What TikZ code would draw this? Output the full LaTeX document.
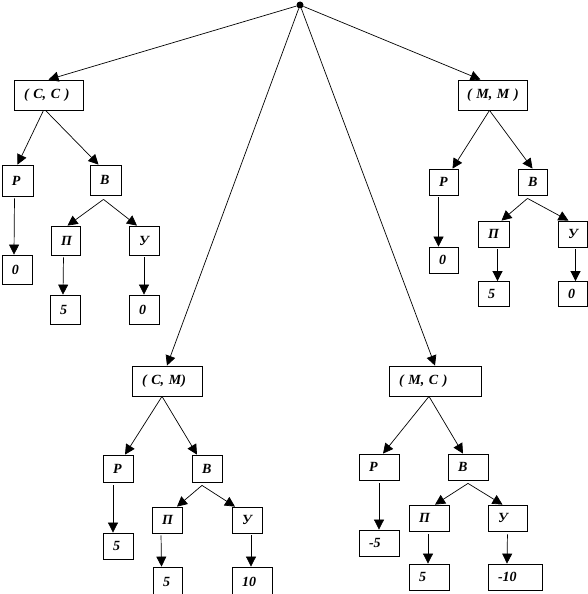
\documentclass[tikz,border=0pt]{standalone}
\usepackage{fontspec}
\setmainfont{Liberation Serif}
\usepackage{tikz}
\usetikzlibrary{arrows.meta}
\tikzset{
  cell/.style={rectangle, draw, line width=0.8pt, inner xsep=10pt, inner ysep=0pt,
    align=left, font=\fontsize{14}{16}\selectfont\bfseries\itshape},
  rootdot/.style={circle, fill, inner sep=0pt, minimum size=7pt},
  arrow/.style={-{Triangle[length=10pt, width=10pt]}, line width=0.7pt}
}

\begin{document}
\begin{tikzpicture}[x=1pt, y=-1pt]
  \useasboundingbox (0,0) rectangle (587,594);

  \node[rootdot] (root) at (300,5) {};

  \node[cell, text width=49pt, minimum height=30pt] (cc) at (48.5,95) {\mbox{( С, С )}};
  \node[cell, text width=51pt, minimum height=30pt, inner xsep=9pt] (mm) at (492.5,95) {\mbox{( М, М )}};
  \node[cell, text width=50pt, minimum height=30pt] (cm) at (167,381) {\mbox{( С, М)}};
  \node[cell, text width=72pt, minimum height=30pt] (mc) at (435,381) {\mbox{( М, С )}};

  \node[cell, text width=11pt, minimum height=31pt] (ccP) at (17.5,180.5) {Р};
  \node[cell, text width=11pt, minimum height=30pt] (ccB) at (105.5,180) {В};
  \node[cell, text width=10pt, minimum height=29pt] (ccP0) at (17,269.5) {0};
  \node[cell, text width=9pt, minimum height=29pt] (ccPi) at (65.5,240.5) {П};
  \node[cell, text width=10pt, minimum height=29pt] (ccU) at (144,240.5) {У};
  \node[cell, text width=10pt, minimum height=29pt] (ccPi5) at (65,309.5) {5};
  \node[cell, text width=10pt, minimum height=29pt] (ccU0) at (144,309.5) {0};

  \node[cell, text width=9pt, minimum height=26pt] (mmP) at (443.5,182) {Р};
  \node[cell, text width=9pt, minimum height=26pt] (mmB) at (532.5,182) {В};
  \node[cell, text width=9pt, minimum height=26pt] (mmP0) at (443.5,260) {0};
  \node[cell, text width=11pt, minimum height=26pt] (mmPi) at (493.5,234) {П};
  \node[cell, text width=9pt, minimum height=26pt] (mmU) at (572.5,234) {У};
  \node[cell, text width=11pt, minimum height=25pt] (mmPi5) at (493.5,294) {5};
  \node[cell, text width=9pt, minimum height=25pt] (mmU0) at (572.5,294) {0};

  \node[cell, text width=10pt, minimum height=27pt] (cmP) at (118,468.5) {Р};
  \node[cell, text width=10pt, minimum height=27pt] (cmB) at (207,468.5) {В};
  \node[cell, text width=10pt, minimum height=26pt] (cmP5) at (118,546) {5};
  \node[cell, text width=10pt, minimum height=26pt] (cmPi) at (167,520) {П};
  \node[cell, text width=10pt, minimum height=26pt] (cmU) at (247,520) {У};
  \node[cell, text width=9pt, minimum height=30pt] (cmPi5) at (167.5,582) {5};
  \node[cell, text width=20pt, minimum height=30pt] (cmU10) at (252,582) {10};

  \node[cell, text width=20pt, minimum height=26pt] (mcP) at (379,467) {Р};
  \node[cell, text width=20pt, minimum height=26pt] (mcB) at (468,467) {В};
  \node[cell, text width=20pt, minimum height=26pt] (mcP5) at (379,543) {-5};
  \node[cell, text width=20pt, minimum height=26pt] (mcPi) at (429,518) {П};
  \node[cell, text width=19pt, minimum height=26pt] (mcU) at (507.5,518) {У};
  \node[cell, text width=20pt, minimum height=26pt] (mcPi5) at (429,577) {5};
  \node[cell, text width=34pt, minimum height=26pt] (mcU10) at (515,577) {-10};

  \draw[arrow] (root) -- (cc.north);
  \draw[arrow] (root) -- ([xshift=-12pt]mm.north);
  \draw[arrow] (root) -- (cm.north);
  \draw[arrow] (root) -- (mc.north);

  \draw[arrow] ([xshift=-5pt]cc.south) -- (ccP.north);
  \draw[arrow] ([xshift=-3pt]cc.south) -- ([xshift=-7pt]ccB.north);
  \draw[arrow, shorten <=2pt] ([xshift=-3pt]ccP.south) -- ([xshift=-3pt]ccP0.north);
  \draw[arrow] ([xshift=-2pt, yshift=-4pt]ccB.south) -- ([xshift=2pt]ccPi.north);
  \draw[arrow] ([xshift=-2pt, yshift=-4pt]ccB.south) -- ([xshift=-7pt]ccU.north);
  \draw[arrow, shorten <=2pt] ([xshift=-2pt]ccPi.south) -- ([xshift=-2pt]ccPi5.north);
  \draw[arrow, shorten <=2pt] (ccU.south) -- (ccU0.north);

  \draw[arrow] ([xshift=-3pt]mm.south) -- ([xshift=9pt]mmP.north);
  \draw[arrow] ([xshift=-3pt]mm.south) -- (mmB.north);
  \draw[arrow, shorten <=2pt] ([xshift=-5pt]mmP.south) -- ([xshift=-5pt]mmP0.north);
  \draw[arrow] ([xshift=-5pt, yshift=-3pt]mmB.south) -- ([xshift=8pt]mmPi.north);
  \draw[arrow] ([xshift=-5pt, yshift=-3pt]mmB.south) -- ([xshift=-4pt]mmU.north);
  \draw[arrow, shorten <=2pt] ([xshift=4pt]mmPi.south) -- ([xshift=4pt]mmPi5.north);
  \draw[arrow, shorten <=2pt] ([xshift=3pt]mmU.south) -- ([xshift=3pt]mmU0.north);

  \draw[arrow] ([xshift=-5pt]cm.south) -- ([xshift=7pt]cmP.north);
  \draw[arrow] ([xshift=-5pt]cm.south) -- ([xshift=-10pt]cmB.north);
  \draw[arrow, shorten <=3pt] ([xshift=-5pt]cmP.south) -- ([xshift=-5pt]cmP5.north);
  \draw[arrow] ([xshift=-5pt, yshift=-3pt]cmB.south) -- ([xshift=10pt]cmPi.north);
  \draw[arrow] ([xshift=-5pt, yshift=-3pt]cmB.south) -- ([xshift=-12pt]cmU.north);
  \draw[arrow, shorten <=2pt] ([xshift=-6pt]cmPi.south) -- ([xshift=-6pt]cmPi5.north);
  \draw[arrow, shorten <=2pt] ([xshift=4pt]cmU.south) -- ([xshift=-1pt]cmU10.north);

  \draw[arrow] ([xshift=-6pt]mc.south) -- ([xshift=4pt]mcP.north);
  \draw[arrow] ([xshift=-6pt]mc.south) -- ([xshift=-5pt]mcB.north);
  \draw[arrow, shorten <=3pt] (mcP.south) -- (mcP5.north);
  \draw[arrow] ([yshift=-3pt]mcB.south) -- ([xshift=6pt]mcPi.north);
  \draw[arrow] ([yshift=-3pt]mcB.south) -- ([xshift=-5pt]mcU.north);
  \draw[arrow, shorten <=3pt] ([xshift=-1pt]mcPi.south) -- ([xshift=-1pt]mcPi5.north);
  \draw[arrow, shorten <=3pt] (mcU.south) -- ([xshift=-8pt]mcU10.north);
\end{tikzpicture}
\end{document}
